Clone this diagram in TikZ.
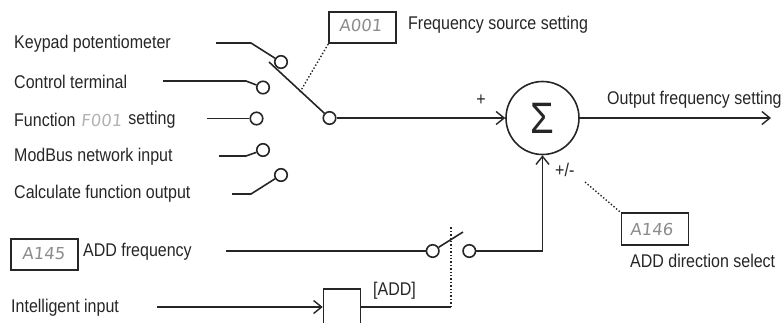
\documentclass[tikz,border=0pt]{standalone}
\usepackage{fontspec}
\setmainfont[FakeStretch=0.87]{Liberation Sans}
\newfontfamily\segfont[FakeSlant=0.1]{DejaVu Sans}
\usetikzlibrary{arrows.meta,positioning}

\begin{document}
\begin{tikzpicture}[
  x=1pt, y=-1pt,
  font=\fontsize{18.4}{20}\selectfont, text=black!85,
  lab/.style={anchor=west, inner sep=0pt, yshift=-1pt},
  term/.style={circle, draw=black!85, fill=white, line width=1.6pt, minimum size=12.5pt, inner sep=0pt},
  wire/.style={draw=black!85, line width=1.6pt},
  arr/.style={wire, -{Straight Barb[length=8pt,width=13pt,line width=1.4pt]}},
  dots/.style={draw=black!85, line width=1.4pt, dotted},
  disp/.style={draw=black!85, fill=white, line width=1.6pt, minimum width=67pt, minimum height=31.5pt, inner sep=0pt},
  seg/.style={font=\segfont\fontsize{16.5}{16.5}\selectfont, text=black!45, inner sep=0pt, anchor=west}
]
\clip (0,0) rectangle (783,322);

% source labels
\node[lab] (keypad) at (14,43) {Keypad potentiometer};
\node[lab] (control) at (14,81) {Control terminal};
\node[lab] (func) at (14,119) {Function};
\node[seg, right=5pt of func, text=black!30] (f001) {F001};
\node[lab, right=6pt of f001, yshift=1pt] (functail) {setting};
\node[lab] (modbus) at (14,156) {ModBus network input};
\node[lab] (calc) at (14,193) {Calculate function output};

% selector contacts
\node[term] (t1) at (281,62) {};
\node[term] (t2) at (263,87.5) {};
\node[term] (t3) at (256.5,118.5) {};
\node[term] (t4) at (263,150) {};
\node[term] (t5) at (281,175) {};
\node[term] (tout) at (329.5,118) {};
\coordinate (s1) at (216,43);
\coordinate (s2) at (163,81);
\coordinate (s3) at (207,118.5);
\coordinate (s4) at (219,156);
\coordinate (s5) at (232,194);
\coordinate (arm) at (269,62);

\draw[wire] (s1) -- (251,43) -- (t1);
\draw[wire] (s2) -- (246,81) -- (t2);
\draw[wire] (s3) -- (t3);
\draw[wire] (s4) -- (246,156) -- (t4);
\draw[wire] (s5) -- (251,194) -- (t5);
\draw[wire] (arm) -- (tout);

% summing point
\node[circle, draw=black!85, line width=1.6pt, minimum size=73pt, inner sep=0pt,
      font=\fontsize{44}{44}\selectfont] (sum) at (542.5,118) {Σ};
\coordinate (outend) at (771,118);
\draw[arr] (tout) -- (sum);
\draw[arr] (sum) -- (outend);
\node[inner sep=0pt] (plus) at (481,100) {+};
\node[lab] (outlab) at (607,99) {Output frequency setting};
\node[lab] (pm) at (555,169) {+/-};

% source setting
\node[disp] (a001) at (362.5,27.5) {};
\node[seg] (a001txt) at (339,25) {A001};
\node[lab] (srclab) at (408,24) {Frequency source setting};
\coordinate (armdot) at (300,92);
\draw[dots] (a001.south west) -- (armdot);

% ADD frequency
\node[disp] (a145) at (44.5,254.5) {};
\node[seg] (a145txt) at (22,254) {A145};
\node[lab] (addlab) at (83,251) {ADD frequency};
\coordinate (addin) at (226,251);
\node[term] (c1) at (432.7,251) {};
\node[term] (c2) at (469.3,251) {};
\coordinate (armtip) at (463,232);
\coordinate (corner) at (542.5,251);
\draw[wire] (addin) -- (c1);
\draw[wire] (c1) -- (armtip);
\draw[arr] (c2) -- (corner) -- (sum);

% direction select
\node[disp] (a146) at (655,229) {};
\node[seg] (a146txt) at (630,229) {A146};
\node[lab] (dirlab) at (630,260) {ADD direction select};
\coordinate (pmdot) at (585,182);
\draw[dots] (pmdot) -- (a146.north west);

% intelligent input
\node[lab] (intlab) at (11,307) {Intelligent input};
\node[draw=black!85, line width=1.6pt, minimum width=37pt, minimum height=66pt, inner sep=0pt] (addbox) at (342,322) {};
\coordinate (intin) at (157,307);
\coordinate (addend) at (451,307);
\coordinate (dottop) at (451,226);
\draw[arr] (intin) -- (intin -| addbox.west);
\draw[wire] (addbox.east |- addend) -- (addend);
\draw[dots] (addend) -- (dottop);
\node[lab] (addtag) at (373,290) {[ADD]};
\end{tikzpicture}
\end{document}
